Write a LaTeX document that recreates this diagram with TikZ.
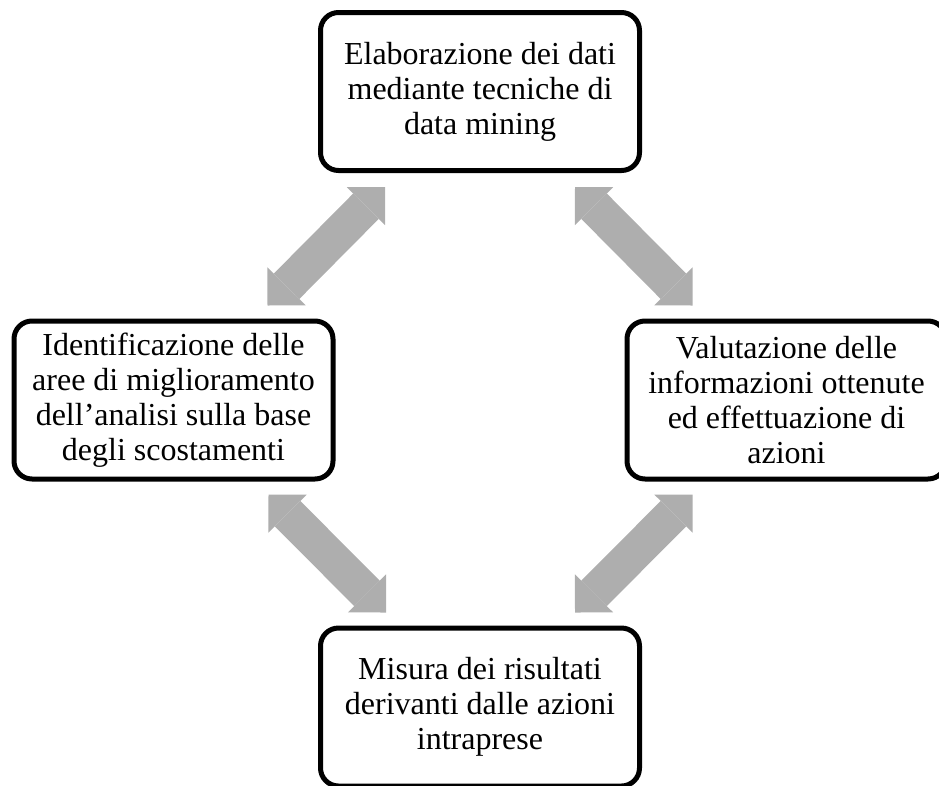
\documentclass[tikz,border=0pt]{standalone}
\usepackage{fontspec}
\setmainfont{Liberation Serif}
\usetikzlibrary{arrows.meta}
\definecolor{arrowgray}{RGB}{174,174,174}

\begin{document}
\begin{tikzpicture}[x=1pt,y=-1pt,
  stepbox/.style={draw,line width=5pt,rounded corners=18pt,fill=white,align=center,
    minimum width=319pt,minimum height=158pt,inner sep=0pt,
    font=\fontsize{32}{35}\selectfont},
  biarrow/.style={draw=arrowgray,line width=36pt,{Triangle[length=27pt,width=54pt,line width=0pt]}-{Triangle[length=27pt,width=54pt,line width=0pt]}}]
  \useasboundingbox (0,0) rectangle (939,785);

  \node[stepbox] (elab) at (480,91.5) {Elaborazione dei dati\\mediante tecniche di\\data mining};
  \node[stepbox] (ident) at (173.5,400) {Identificazione delle\\aree di miglioramento\\dell’analisi sulla base\\degli scostamenti};
  \node[stepbox] (valut) at (786.5,400) {Valutazione delle\\informazioni ottenute\\ed effettuazione di\\azioni};
  \node[stepbox] (misura) at (480,707) {Misura dei risultati\\derivanti dalle azioni\\intraprese};

  % double arrows between the steps
  \draw[biarrow] ([shift={(67,14)}]elab.south west) -- ([shift={(-68,-13)}]ident.north east);
  \draw[biarrow] ([shift={(-67,14)}]elab.south east) -- ([shift={(68,-13)}]valut.north west);
  \draw[biarrow] ([shift={(-67,13)}]ident.south east) -- ([shift={(68,-13)}]misura.north west);
  \draw[biarrow] ([shift={(68,13)}]valut.south west) -- ([shift={(-67,-13)}]misura.north east);
\end{tikzpicture}
\end{document}
